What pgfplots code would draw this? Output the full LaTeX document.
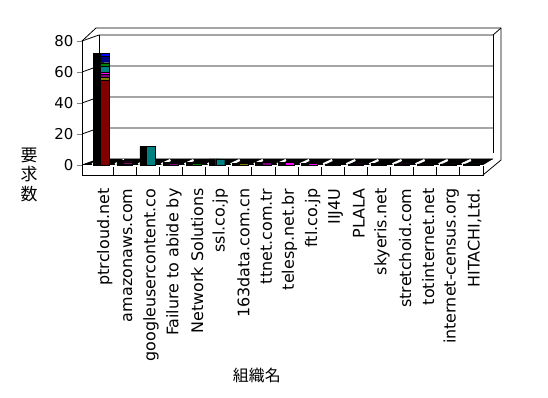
\documentclass[border=0pt]{standalone}
\usepackage{pgfplots}
\usepackage{pgfplotstable}
\pgfplotsset{compat=1.18}
\usepackage{fontspec}
\setmainfont{DejaVu Sans}
\newfontfamily\cjk{Noto Sans CJK JP}

\definecolor{cMaroon}{HTML}{800000}
\definecolor{cOlive}{HTML}{808000}
\definecolor{cPurple}{HTML}{800080}
\definecolor{cMagenta}{HTML}{FF00FF}
\definecolor{cTeal}{HTML}{008080}
\definecolor{cGreen}{HTML}{008000}
\definecolor{cNavy}{HTML}{000080}
\definecolor{cBlue}{HTML}{0000FF}

\pgfplotstableread{
x  s1  s2  s3  s4  s5  s6  s7  s8  tot
0  55  1.5 2   1.5 4   2   4   2   72
1  0   0.7 1   0.3 0.5 0.5 0   0   3
2  0   0   0   0   12  0   0   0   12
3  0   0   1   0   0   0   0.8 0   1.8
4  0   0   0   0   0   1.2 0.3 0   1.5
5  0   0   0   0   4   0   0   0   4
6  0   1   0   0   0   0   0   0   1
7  0   0   1.5 0   0   0   0   0   1.5
8  0   0   0   1.5 0   0   0   0   1.5
9  0   0   0   1   0   0   0   0   1
10 0   0   0   0   0   0   0.8 0   0.8
11 0   0   0   0.8 0   0   0   0   0.8
12 0   0   0   0   0.4 0   0.6 0   1
13 0   0   0   0.8 0   0   0   0   0.8
14 0   0   0.8 0   0   0   0   0   0.8
15 0   0   0.8 0   0   0   0   0   0.8
16 0   0   0   0   0   0.8 0   0   0.8
}\data

\begin{document}
\begin{tikzpicture}
\path[use as bounding box] (0,0) rectangle (548bp,398bp);
% ---- background: walls, floor, depth of bars
\begin{axis}[scale only axis, width=401bp, height=124bp,
  at={(82bp,233bp)}, anchor=south west,
  xmin=-0.85, xmax=16.5, ymin=0, ymax=80,
  hide axis, clip=false,
  ybar, bar width=10bp, bar shift=-3bp]
\pgfplotsinvokeforeach{0,20,40,60,80}{
  \draw[line width=0.8bp] (axis cs:-0.85,#1) -- ([shift={(17bp,6bp)}]axis cs:-0.85,#1) -- ([shift={(10bp,6bp)}]axis cs:16.5,#1);
}
\draw[line width=0.8bp] ([shift={(17bp,6bp)}]axis cs:-0.85,0) -- ([shift={(17bp,6bp)}]axis cs:-0.85,80);
\draw[line width=0.8bp] ([shift={(10bp,6bp)}]axis cs:16.5,80) -- ([shift={(10bp,12bp)}]axis cs:16.5,0);
\draw[line width=0.8bp] (axis cs:-0.85,80) -- ([shift={(14bp,13bp)}]axis cs:-0.85,80) -- ([shift={(18bp,13bp)}]axis cs:16.5,80) -- ([shift={(18bp,5bp)}]axis cs:16.5,0) -- ([shift={(0bp,-10bp)}]axis cs:16.5,0);
\draw[line width=0.8bp] ([shift={(10bp,6bp)}]axis cs:16.5,80) -- ([shift={(18bp,13bp)}]axis cs:16.5,80);
\fill[black] (axis cs:-0.85,0) -- (axis cs:16.5,0) -- ([shift={(10bp,6bp)}]axis cs:16.5,0) -- ([shift={(17bp,6bp)}]axis cs:-0.85,0) -- cycle;
\pgfplotsinvokeforeach{0,...,16}{
  \draw[white, line width=2.2bp] ([shift={(2bp,0.8bp)}]axis cs:#1-0.5,0) -- ([shift={(11bp,5bp)}]axis cs:#1-0.5,0);
}
\addplot[fill=black, draw=black] table[x=x, y=tot]{\data};
\end{axis}
% ---- front: stacked bars, axis, labels
\begin{axis}[scale only axis, width=401bp, height=124bp,
  at={(82bp,233bp)}, anchor=south west,
  xmin=-0.85, xmax=16.5, ymin=0, ymax=80,
  clip=false,
  ybar stacked, bar width=9bp, bar shift=3bp,
  axis y line*=left, axis x line*=bottom,
  x axis line style={draw=none},
  y axis line style={line width=0.8bp},
  xtick={0,...,16}, xtick style={draw=none},
  xticklabels={ptrcloud.net, amazonaws.com, googleusercontent.co, Failure to abide by, Network Solutions, ssl.co.jp, 163data.com.cn, ttnet.com.tr, telesp.net.br, ftl.co.jp, IIJ4U, PLALA, skyeris.net, stretchoid.com, totinternet.net, internet-census.org, {HITACHI,Ltd.}},
  xticklabel style={font=\fontsize{16}{16}\selectfont, xshift=3bp, rotate=90, anchor=east},
  xticklabel shift=15bp,
  ytick={0,20,40,60,80},
  ytick style={line width=0.8bp},
  tick align=outside, major tick length=5bp,
  yticklabel style={font=\fontsize{15}{15}\selectfont},
  /pgf/number format/assume math mode=true,
  xlabel={\cjk 組織名},
  xlabel style={font=\fontsize{16}{16}\selectfont, at={(axis description cs:0.436,-1.694)}, anchor=center},
  ylabel={\cjk\begin{tabular}{@{}c@{}}要\\求\\数\end{tabular}},
  ylabel style={font=\fontsize{17}{19}\selectfont, rotate=-90, at={(axis description cs:-0.132,-0.097)}, anchor=center},
]
\addplot[fill=cMaroon, draw=black] table[x=x, y=s1]{\data};
\addplot[fill=cOlive, draw=black] table[x=x, y=s2]{\data};
\addplot[fill=cPurple, draw=black] table[x=x, y=s3]{\data};
\addplot[fill=cMagenta, draw=black] table[x=x, y=s4]{\data};
\addplot[fill=cTeal, draw=black] table[x=x, y=s5]{\data};
\addplot[fill=cGreen, draw=black] table[x=x, y=s6]{\data};
\addplot[fill=cNavy, draw=black] table[x=x, y=s7]{\data};
\addplot[fill=cBlue, draw=black] table[x=x, y=s8]{\data};
\draw[line width=0.8bp] (axis cs:-0.85,0) -- ([yshift=-10bp]axis cs:-0.85,0) -- ([yshift=-10bp]axis cs:16.5,0) -- ([yshift=-1bp]axis cs:16.5,0);
\pgfplotsinvokeforeach{0,...,15}{
  \draw[line width=0.8bp] ([yshift=-2bp]axis cs:#1+0.5,0) -- ([yshift=-10bp]axis cs:#1+0.5,0);
}
\end{axis}
\end{tikzpicture}
\end{document}
